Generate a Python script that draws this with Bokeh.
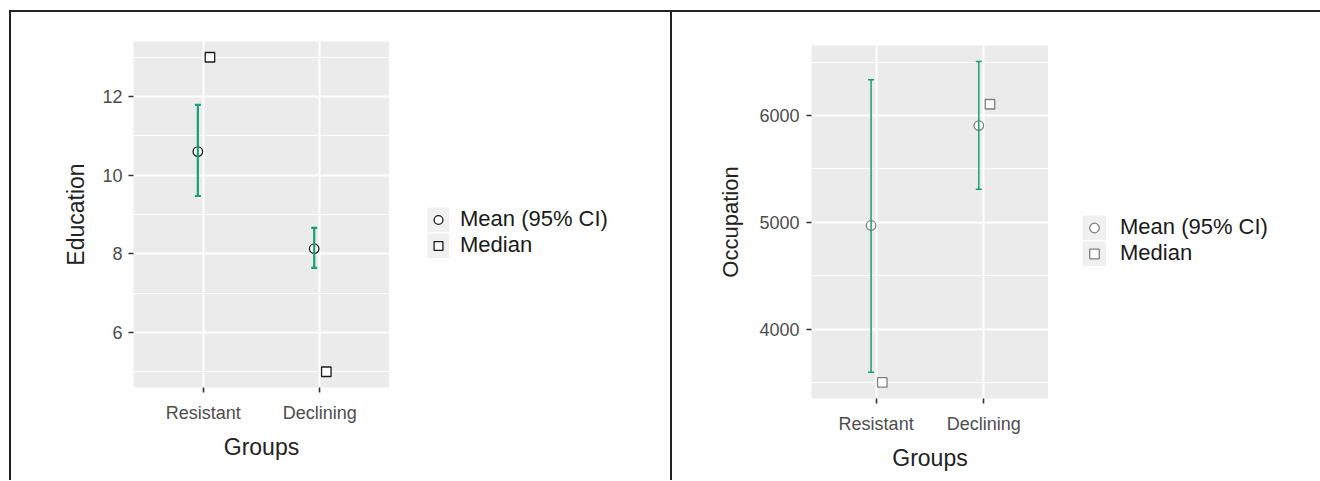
import numpy as np
from bokeh.plotting import figure
from bokeh.models import (ColumnDataSource, FactorRange, Range1d, FixedTicker,
                          Whisker, TeeHead, Legend, LegendItem)
from bokeh.transform import dodge
from bokeh.layouts import row
from bokeh.embed import file_html
from bokeh.resources import INLINE

# ---------------- data ----------------
groups = ["Resistant", "Declining"]

edu_mean = [10.60, 8.13]
edu_lower = [9.47, 7.64]
edu_upper = [11.79, 8.66]
edu_median = [13.0, 5.0]
edu_ticks = [6, 8, 10, 12]
edu_minor = [5, 7, 9, 11, 13]

occ_mean = [4970, 5905]
occ_lower = [3595, 5310]
occ_upper = [6335, 6505]
occ_median = [3500, 6105]
occ_ticks = [4000, 5000, 6000]
occ_minor = [3500, 4500, 5500, 6500]

legend_labels = ["Mean (95% CI)", "Median"]

GREEN = "#1B9E77"
PANEL = "#EBEBEB"
KEYBG = "#F0F0F0"
FONT = "Liberation Sans"
H = 480


def make_panel(ylabel, mean, lower, upper, median, ticks, minor, mcolor, bar_w,
               frame_w, frame_h, mb_left, mb_top, ylab_std, ytitle_std, shadow):
    vals = list(mean) + list(lower) + list(upper) + list(median)
    lo, hi = min(vals), max(vals)
    pad = 0.05 * (hi - lo)
    p = figure(x_range=FactorRange(factors=groups, range_padding=0.1),
               y_range=Range1d(lo - pad, hi + pad), title=None,
               frame_width=frame_w, frame_height=frame_h,
               min_border_left=mb_left, min_border_right=0,
               min_border_top=mb_top, min_border_bottom=H - mb_top - frame_h,
               output_backend="svg", toolbar_location=None)
    p.background_fill_color = PANEL
    p.border_fill_alpha = 0
    p.outline_line_color = None
    p.styles = {"box-shadow": shadow}

    p.xgrid.grid_line_color = "white"
    p.xgrid.grid_line_width = 2
    p.ygrid.grid_line_color = "white"
    p.ygrid.grid_line_width = 2
    p.ygrid.minor_grid_line_color = "white"
    p.ygrid.minor_grid_line_width = 1
    p.yaxis.ticker = FixedTicker(ticks=ticks, minor_ticks=minor)

    for ax in (p.xaxis[0], p.yaxis[0]):
        ax.axis_line_color = None
        ax.major_tick_line_color = "#333333"
        ax.major_tick_line_width = 1.6
        ax.major_tick_out = 5
        ax.major_tick_in = 0
        ax.minor_tick_line_color = None
        ax.major_label_text_font = FONT
        ax.major_label_text_font_size = "18px"
        ax.major_label_text_color = "#4D4D4D"
        ax.axis_label_text_font = FONT
        ax.axis_label_text_font_style = "normal"
        ax.axis_label_text_color = "#222222"

    p.xaxis.axis_label = "Groups"
    p.xaxis.axis_label_text_font_size = "23px"
    p.xaxis.major_label_standoff = 10
    p.xaxis.axis_label_standoff = 8
    p.yaxis.axis_label = ylabel
    p.yaxis.axis_label_text_font_size = "23px" if ylabel == "Education" else "22px"
    p.yaxis.major_label_standoff = ylab_std
    p.yaxis.axis_label_standoff = ytitle_std

    src = ColumnDataSource(dict(g=groups, mean=mean, lower=lower,
                                upper=upper, median=median))
    mean_x = dodge("g", -0.047, range=p.x_range)
    med_x = dodge("g", 0.057, range=p.x_range)

    w = Whisker(base=mean_x, upper="upper", lower="lower", source=src,
                line_color=GREEN, line_width=bar_w, level="glyph",
                upper_head=TeeHead(size=6, line_color=GREEN, line_width=bar_w),
                lower_head=TeeHead(size=6, line_color=GREEN, line_width=bar_w))
    p.add_layout(w)

    p.scatter(x=mean_x, y="mean", source=src, marker="circle", size=9.5,
              fill_color="white", line_color=mcolor, line_width=1.3)
    p.scatter(x=med_x, y="median", source=src, marker="square", size=9.5,
              fill_color="white", line_color=mcolor, line_width=1.3)
    return p


def make_legend_fig(width, mcolor, loc, gw, standoff, shadow):
    L = figure(width=width, height=H, title=None,
               x_range=Range1d(0, 1), y_range=Range1d(0, 1),
               x_axis_type=None, y_axis_type=None,
               min_border=0, min_border_left=0, min_border_right=0,
               min_border_top=0, min_border_bottom=0,
               output_backend="svg", toolbar_location=None)
    L.grid.visible = False
    L.outline_line_color = None
    L.background_fill_alpha = 0
    L.border_fill_alpha = 0
    L.styles = {"box-shadow": shadow}
    # legend proxies (NaN position -> nothing drawn in the frame)
    proxy = ColumnDataSource(dict(x=np.array([np.nan]), y=np.array([np.nan])))
    bg = L.line(x="x", y="y", source=proxy, line_width=25,
                line_color=KEYBG, line_cap="butt")
    mr = L.scatter(x="x", y="y", source=proxy, marker="circle", size=9.5,
                   fill_color="white", line_color=mcolor, line_width=1.3)
    sr = L.scatter(x="x", y="y", source=proxy, marker="square", size=9.5,
                   fill_color="white", line_color=mcolor, line_width=1.3)
    legend = Legend(items=[LegendItem(label=legend_labels[0], renderers=[bg, mr]),
                           LegendItem(label=legend_labels[1], renderers=[bg, sr])],
                    location=loc, orientation="vertical",
                    glyph_width=gw, glyph_height=25, spacing=0,
                    padding=0, margin=0, label_standoff=standoff,
                    label_text_font=FONT, label_text_font_size="22px",
                    label_text_color="#1A1A1A", border_line_color=None,
                    background_fill_alpha=0)
    L.add_layout(legend)
    return L


TOP_ONLY = "inset 0 10px 0 0 #ffffff, inset 0 12px 0 0 #222222"

p1 = make_panel("Education", edu_mean, edu_lower, edu_upper, edu_median,
                edu_ticks, edu_minor, "#1A1A1A", 2.2,
                256, 346, 133, 41, 6, 10,
                "inset 9px 10px 0 0 #ffffff, inset 11px 12px 0 0 #222222")
L1 = make_legend_fig(281, "#1A1A1A", (38, 129), 22, 11, TOP_ONLY)
p2 = make_panel("Occupation", occ_mean, occ_lower, occ_upper, occ_median,
                occ_ticks, occ_minor, "#7F7F7F", 1.5,
                237, 353, 141, 45, 7, 13,
                "inset 0 10px 0 0 #ffffff, inset 2px 12px 0 0 #222222")
L2 = make_legend_fig(272, "#7F7F7F", (34, 132), 24, 14, TOP_ONLY)

layout = row(row(p1, L1), row(p2, L2))
open("out.html", "w").write(file_html(layout, INLINE))
